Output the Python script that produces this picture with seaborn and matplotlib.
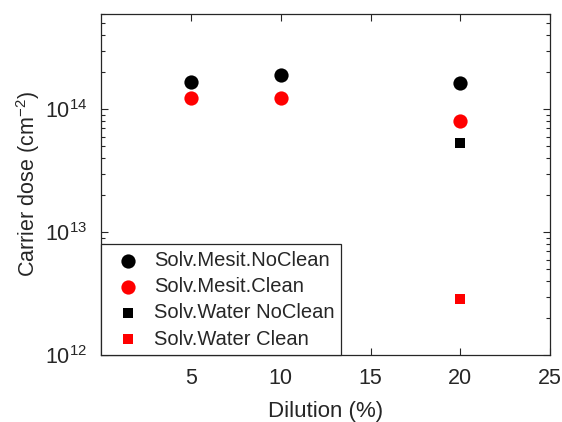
import matplotlib
matplotlib.use("Agg")
import matplotlib.pyplot as plt
import seaborn as sns
import pandas as pd
import numpy as np
from matplotlib.ticker import LogLocator, FixedLocator

sns.set_style("white")
plt.rcParams['font.family'] = ['Liberation Sans', 'DejaVu Sans']
plt.rcParams['mathtext.fontset'] = 'custom'
plt.rcParams['mathtext.rm'] = 'Liberation Sans'
plt.rcParams['mathtext.it'] = 'Liberation Sans:italic'

# Data
mesit_x = [5, 10, 20]
mesit_noclean = [1.66e14, 1.91e14, 1.62e14]
mesit_clean = [1.24e14, 1.24e14, 7.98e13]
water_x = [20]
water_noclean = [5.3e13]
water_clean = [2.87e12]
series_names = ["Solv.Mesit.NoClean", "Solv.Mesit.Clean",
                "Solv.Water NoClean", "Solv.Water Clean"]
x_ticks = [5, 10, 15, 20, 25]

fig = plt.figure(figsize=(5.62, 4.22), dpi=100)
ax = fig.add_axes([0.180, 0.158, 0.799, 0.810])

specs = [
    (mesit_x, mesit_noclean, series_names[0], 'black', 'o', 105),
    (mesit_x, mesit_clean, series_names[1], 'red', 'o', 105),
    (water_x, water_noclean, series_names[2], 'black', 's', 60),
    (water_x, water_clean, series_names[3], 'red', 's', 60),
]
for xs, ys, name, col, mk, s in specs:
    df = pd.DataFrame({"x": xs, "y": ys})
    sns.scatterplot(data=df, x="x", y="y", color=col, marker=mk, s=s,
                    linewidth=0, label=name, ax=ax, zorder=3)

ax.set_yscale('log')
ax.set_xlim(0, 25)
ax.set_ylim(1e12, 6e14)
ax.xaxis.set_major_locator(FixedLocator(x_ticks))
ax.yaxis.set_major_locator(LogLocator(base=10, numticks=10))
ax.yaxis.set_minor_locator(LogLocator(base=10, subs=np.arange(2, 10), numticks=20))
ax.tick_params(axis='both', which='both', direction='in', top=True, right=True,
               left=True, bottom=True,
               labelsize=15.5, colors='#262626', width=0.8)
ax.tick_params(axis='both', which='major', length=5)
ax.tick_params(axis='x', which='major', pad=9)
ax.tick_params(axis='y', which='major', pad=10)
ax.tick_params(axis='y', which='minor', length=3)
ax.tick_params(axis='x', which='minor', bottom=False, top=False)
for sp in ax.spines.values():
    sp.set_color('#262626')
    sp.set_linewidth(0.9)

ax.set_xlabel("Dilution (%)", fontsize=16, color='#262626', labelpad=9)
ax.set_ylabel("Carrier dose (cm$^{-2}$)", fontsize=15.5, color='#262626', labelpad=2)

leg = ax.legend(loc='lower left', bbox_to_anchor=(0.0, 0.0), borderaxespad=0,
                fancybox=False, edgecolor='#262626', fontsize=14.5,
                handletextpad=0.3, labelspacing=0.36, borderpad=0.33,
                handlelength=2.0, framealpha=1)
leg.get_frame().set_linewidth(0.9)

fig.savefig("out.png", dpi=100)
